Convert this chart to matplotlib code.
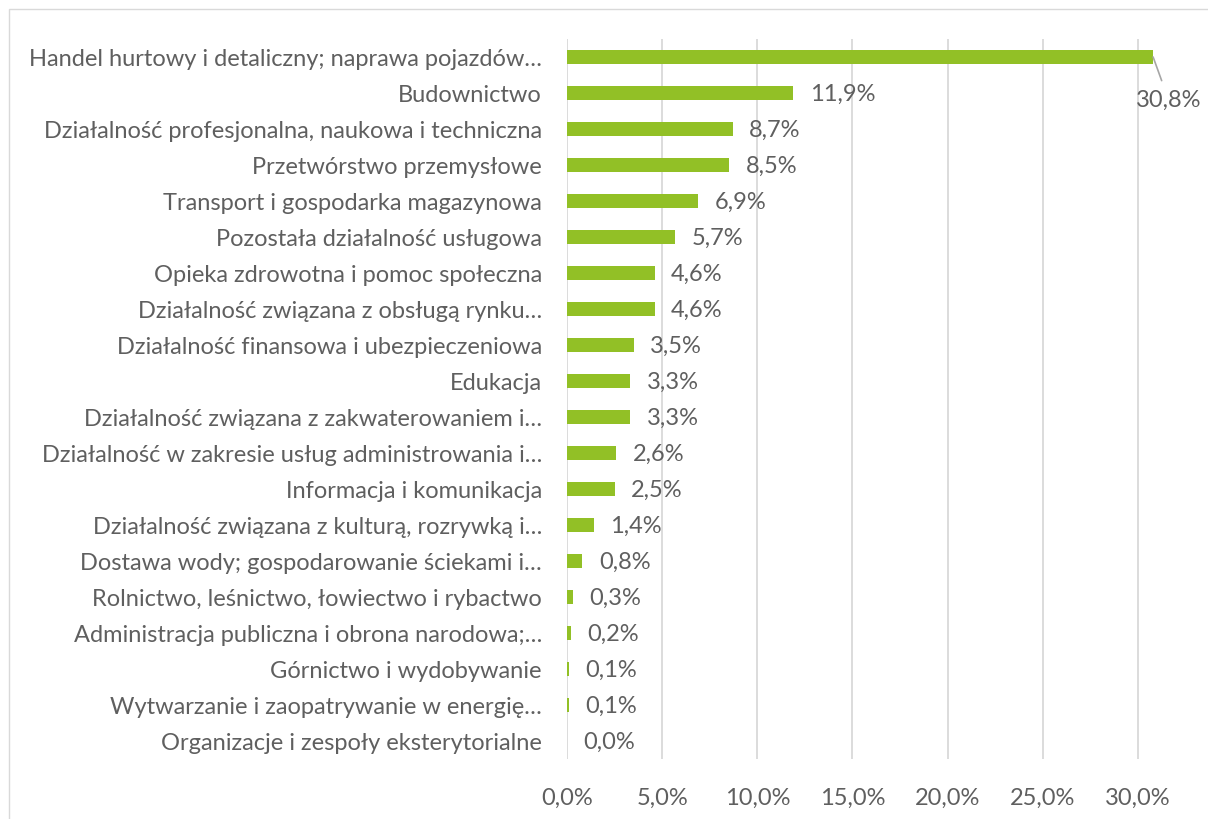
import matplotlib
matplotlib.use("Agg")
import matplotlib.pyplot as plt
from matplotlib.patches import Rectangle

categories = [
    "Handel hurtowy i detaliczny; naprawa pojazdów…",
    "Budownictwo",
    "Działalność profesjonalna, naukowa i techniczna",
    "Przetwórstwo przemysłowe",
    "Transport i gospodarka magazynowa",
    "Pozostała działalność usługowa",
    "Opieka zdrowotna i pomoc społeczna",
    "Działalność związana z obsługą rynku…",
    "Działalność finansowa i ubezpieczeniowa",
    "Edukacja",
    "Działalność związana z zakwaterowaniem i…",
    "Działalność w zakresie usług administrowania i…",
    "Informacja i komunikacja",
    "Działalność związana z kulturą, rozrywką i…",
    "Dostawa wody; gospodarowanie ściekami i…",
    "Rolnictwo, leśnictwo, łowiectwo i rybactwo",
    "Administracja publiczna i obrona narodowa;…",
    "Górnictwo i wydobywanie",
    "Wytwarzanie i zaopatrywanie w energię…",
    "Organizacje i zespoły eksterytorialne",
]
values = [30.8, 11.9, 8.7, 8.5, 6.9, 5.7, 4.6, 4.6, 3.5, 3.3, 3.3, 2.6, 2.5,
          1.4, 0.8, 0.3, 0.2, 0.1, 0.1, 0.0]
xticks = [0, 5, 10, 15, 20, 25, 30]

plt.rcParams['font.family'] = ['Lato', 'DejaVu Sans']
TXT = '#5f5f5f'
GREEN = '#92C026'
FS = 17

fig = plt.figure(figsize=(12.08, 8.2), dpi=100)
px = 19.03
ax = fig.add_axes([567/1208, 60/820, 32*px/1208, 720/820])

y = list(range(len(categories)))
ax.barh(y, values, height=0.4, color=GREEN, zorder=3)
ax.set_ylim(len(categories) - 0.5, -0.5)
ax.set_xlim(0, 32)
ax.set_yticks(y)
ax.set_yticklabels(categories, fontsize=FS, color=TXT)
ax.set_xticks(xticks)
ax.set_xticklabels([f"{t:.1f}%".replace('.', ',') for t in xticks],
                   fontsize=FS, color=TXT)
ax.tick_params(axis='y', length=0, pad=18)
ax.tick_params(axis='x', length=0, pad=20)
ax.grid(axis='x', color='#D9D9D9', linewidth=1.3, zorder=0)
for s in ax.spines.values():
    s.set_visible(False)

for i, v in enumerate(values):
    lab = f"{v:.1f}%".replace('.', ',')
    if i == 0:
        ax.annotate(lab, xy=(v, i), xytext=(31.6, i + 1.17),
                    fontsize=FS, color=TXT,
                    ha='center', va='center',
                    arrowprops=dict(arrowstyle='-', color='#A6A6A6', lw=1.2,
                                    shrinkA=4, shrinkB=0))
    else:
        ax.annotate(lab, xy=(v, i), xytext=(12, 0), textcoords='offset points',
                    fontsize=FS, color=TXT,
                    ha='left', va='center')

fig.patches.append(Rectangle((9/1208, -0.1), 1.2, 1 - 10/820 + 0.1,
                             transform=fig.transFigure, fill=False,
                             edgecolor='#D9D9D9', linewidth=1))
fig.savefig('out.png', dpi=100)
